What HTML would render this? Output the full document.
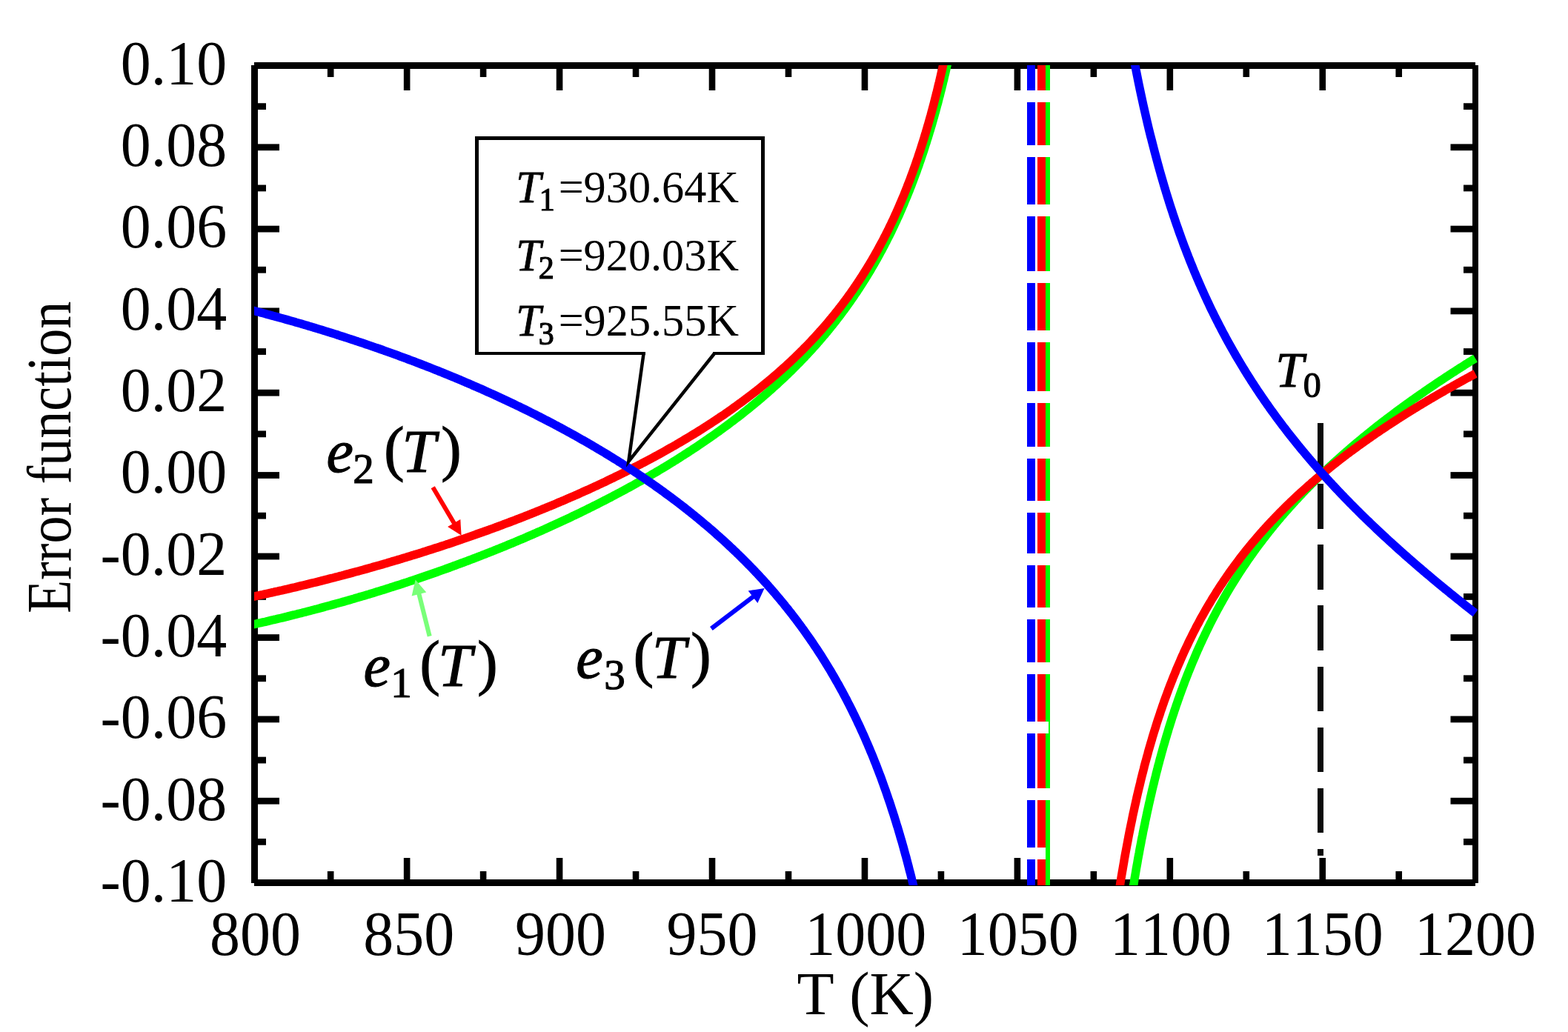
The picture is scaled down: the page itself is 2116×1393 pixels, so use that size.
<!DOCTYPE html>
<html lang="en"><head><meta charset="utf-8"><title>Error function vs T (K)</title>
<style>html,body{margin:0;padding:0;background:#fff}body{width:2116px;height:1393px;overflow:hidden}svg{display:block}text{font-family:"Liberation Serif","DejaVu Serif",serif;fill:#000;font-kerning:none}.tk{font-size:82px}.it{font-style:italic}</style></head><body>
<svg width="2116" height="1393" viewBox="0 0 2116 1393">
<rect width="2116" height="1393" fill="#fff"/>
<g shape-rendering="crispEdges">
<rect x="339" y="88" width="9" height="1104" fill="#000"/>
<rect x="343" y="84" width="1648" height="9" fill="#000"/>
<rect x="1987" y="88" width="8" height="1104" fill="#000"/>
<rect x="343" y="1187" width="1648" height="9" fill="#000"/>
</g><g>
<rect x="441.869" y="92.5" width="8.6" height="11.5" fill="#000"/>
<rect x="441.869" y="1176" width="8.6" height="11.5" fill="#000"/>
<rect x="544.837" y="92.5" width="8.6" height="29.5" fill="#000"/>
<rect x="544.837" y="1158" width="8.6" height="29.5" fill="#000"/>
<rect x="647.806" y="92.5" width="8.6" height="11.5" fill="#000"/>
<rect x="647.806" y="1176" width="8.6" height="11.5" fill="#000"/>
<rect x="750.775" y="92.5" width="8.6" height="29.5" fill="#000"/>
<rect x="750.775" y="1158" width="8.6" height="29.5" fill="#000"/>
<rect x="853.744" y="92.5" width="8.6" height="11.5" fill="#000"/>
<rect x="853.744" y="1176" width="8.6" height="11.5" fill="#000"/>
<rect x="956.712" y="92.5" width="8.6" height="29.5" fill="#000"/>
<rect x="956.712" y="1158" width="8.6" height="29.5" fill="#000"/>
<rect x="1059.68" y="92.5" width="8.6" height="11.5" fill="#000"/>
<rect x="1059.68" y="1176" width="8.6" height="11.5" fill="#000"/>
<rect x="1162.65" y="92.5" width="8.6" height="29.5" fill="#000"/>
<rect x="1162.65" y="1158" width="8.6" height="29.5" fill="#000"/>
<rect x="1265.62" y="92.5" width="8.6" height="11.5" fill="#000"/>
<rect x="1265.62" y="1176" width="8.6" height="11.5" fill="#000"/>
<rect x="1368.59" y="92.5" width="8.6" height="29.5" fill="#000"/>
<rect x="1368.59" y="1158" width="8.6" height="29.5" fill="#000"/>
<rect x="1471.56" y="92.5" width="8.6" height="11.5" fill="#000"/>
<rect x="1471.56" y="1176" width="8.6" height="11.5" fill="#000"/>
<rect x="1574.53" y="92.5" width="8.6" height="29.5" fill="#000"/>
<rect x="1574.53" y="1158" width="8.6" height="29.5" fill="#000"/>
<rect x="1677.49" y="92.5" width="8.6" height="11.5" fill="#000"/>
<rect x="1677.49" y="1176" width="8.6" height="11.5" fill="#000"/>
<rect x="1780.46" y="92.5" width="8.6" height="29.5" fill="#000"/>
<rect x="1780.46" y="1158" width="8.6" height="29.5" fill="#000"/>
<rect x="1883.43" y="92.5" width="8.6" height="11.5" fill="#000"/>
<rect x="1883.43" y="1176" width="8.6" height="11.5" fill="#000"/>
<rect x="347.5" y="139.25" width="11.5" height="8.8" fill="#000"/>
<rect x="1975" y="139.25" width="12.5" height="8.8" fill="#000"/>
<rect x="347.5" y="194.4" width="29.5" height="8.8" fill="#000"/>
<rect x="1957.5" y="194.4" width="30" height="8.8" fill="#000"/>
<rect x="347.5" y="249.55" width="11.5" height="8.8" fill="#000"/>
<rect x="1975" y="249.55" width="12.5" height="8.8" fill="#000"/>
<rect x="347.5" y="304.7" width="29.5" height="8.8" fill="#000"/>
<rect x="1957.5" y="304.7" width="30" height="8.8" fill="#000"/>
<rect x="347.5" y="359.85" width="11.5" height="8.8" fill="#000"/>
<rect x="1975" y="359.85" width="12.5" height="8.8" fill="#000"/>
<rect x="347.5" y="415.5" width="29.5" height="8.8" fill="#000"/>
<rect x="1957.5" y="415.5" width="30" height="8.8" fill="#000"/>
<rect x="347.5" y="470.15" width="11.5" height="8.8" fill="#000"/>
<rect x="1975" y="470.15" width="12.5" height="8.8" fill="#000"/>
<rect x="347.5" y="525.8" width="29.5" height="8.8" fill="#000"/>
<rect x="1957.5" y="525.8" width="30" height="8.8" fill="#000"/>
<rect x="347.5" y="581.45" width="11.5" height="8.8" fill="#000"/>
<rect x="1975" y="581.45" width="12.5" height="8.8" fill="#000"/>
<rect x="347.5" y="637.1" width="29.5" height="8.8" fill="#000"/>
<rect x="1957.5" y="637.1" width="30" height="8.8" fill="#000"/>
<rect x="347.5" y="691.75" width="11.5" height="8.8" fill="#000"/>
<rect x="1975" y="691.75" width="12.5" height="8.8" fill="#000"/>
<rect x="347.5" y="746.6" width="29.5" height="8.8" fill="#000"/>
<rect x="1957.5" y="746.6" width="30" height="8.8" fill="#000"/>
<rect x="347.5" y="801.05" width="11.5" height="8.8" fill="#000"/>
<rect x="1975" y="801.05" width="12.5" height="8.8" fill="#000"/>
<rect x="347.5" y="856.2" width="29.5" height="8.8" fill="#000"/>
<rect x="1957.5" y="856.2" width="30" height="8.8" fill="#000"/>
<rect x="347.5" y="911.35" width="11.5" height="8.8" fill="#000"/>
<rect x="1975" y="911.35" width="12.5" height="8.8" fill="#000"/>
<rect x="347.5" y="966.5" width="29.5" height="8.8" fill="#000"/>
<rect x="1957.5" y="966.5" width="30" height="8.8" fill="#000"/>
<rect x="347.5" y="1021.65" width="11.5" height="8.8" fill="#000"/>
<rect x="1975" y="1021.65" width="12.5" height="8.8" fill="#000"/>
<rect x="347.5" y="1076.8" width="29.5" height="8.8" fill="#000"/>
<rect x="1957.5" y="1076.8" width="30" height="8.8" fill="#000"/>
<rect x="347.5" y="1131.95" width="11.5" height="8.8" fill="#000"/>
<rect x="1975" y="1131.95" width="12.5" height="8.8" fill="#000"/>
</g>
<g class="tk">
<text transform="translate(344.5 1288.8) scale(1 1.027)" text-anchor="middle">800</text>
<text transform="translate(551.737 1288.8) scale(1 1.027)" text-anchor="middle">850</text>
<text transform="translate(756.375 1288.8) scale(1 1.027)" text-anchor="middle">900</text>
<text transform="translate(960.913 1288.8) scale(1 1.027)" text-anchor="middle">950</text>
<text transform="translate(1168.25 1288.8) scale(1 1.027)" text-anchor="middle">1000</text>
<text transform="translate(1373.69 1288.8) scale(1 1.027)" text-anchor="middle">1050</text>
<text transform="translate(1580.12 1288.8) scale(1 1.027)" text-anchor="middle">1100</text>
<text transform="translate(1784.76 1288.8) scale(1 1.027)" text-anchor="middle">1150</text>
<text transform="translate(1991 1288.8) scale(1 1.027)" text-anchor="middle">1200</text>
<text transform="translate(306.2 113.8) scale(1 1.027)" text-anchor="end">0.10</text>
<text transform="translate(306.2 224.1) scale(1 1.027)" text-anchor="end">0.08</text>
<text transform="translate(306.2 334.4) scale(1 1.027)" text-anchor="end">0.06</text>
<text transform="translate(306.2 444.7) scale(1 1.027)" text-anchor="end">0.04</text>
<text transform="translate(306.2 555) scale(1 1.027)" text-anchor="end">0.02</text>
<text transform="translate(306.2 665.3) scale(1 1.027)" text-anchor="end">0.00</text>
<text transform="translate(306.2 775.6) scale(1 1.027)" text-anchor="end">-0.02</text>
<text transform="translate(306.2 885.9) scale(1 1.027)" text-anchor="end">-0.04</text>
<text transform="translate(306.2 996.2) scale(1 1.027)" text-anchor="end">-0.06</text>
<text transform="translate(306.2 1106.5) scale(1 1.027)" text-anchor="end">-0.08</text>
<text transform="translate(306.2 1216.8) scale(1 1.027)" text-anchor="end">-0.10</text>
<text x="1167.8" y="1368.8" text-anchor="middle">T (K)</text>
<text transform="translate(95 617.4) rotate(-90) scale(0.903 1.027)" text-anchor="middle">Error function</text>
</g>
<g shape-rendering="crispEdges">
<rect x="1778" y="571" width="8" height="61" fill="#0a0a0a"/>
<rect x="1778" y="653" width="8" height="61" fill="#0a0a0a"/>
<rect x="1778" y="735" width="8" height="61" fill="#0a0a0a"/>
<rect x="1778" y="817" width="8" height="61" fill="#0a0a0a"/>
<rect x="1778" y="900" width="8" height="60" fill="#0a0a0a"/>
<rect x="1778" y="982" width="8" height="60" fill="#0a0a0a"/>
<rect x="1778" y="1064" width="8" height="60" fill="#0a0a0a"/>
<rect x="1778" y="1146" width="8" height="9" fill="#0a0a0a"/>
</g>
<text transform="translate(0 272.6) scale(1 1.03)" font-size="60.3"><tspan class="it" x="696.3" font-size="60.5" stroke="#000" stroke-width="0.8">T</tspan><tspan x="727.7" dy="11.5" font-size="42" stroke="#000" stroke-width="1.2">1</tspan><tspan x="753.8" dy="-11.5">=</tspan><tspan x="787.6">930.64K</tspan></text>
<text transform="translate(0 364.5) scale(1 1.03)" font-size="60.3"><tspan class="it" x="696.3" font-size="60.5" stroke="#000" stroke-width="0.8">T</tspan><tspan x="726.7" dy="11.5" font-size="42" stroke="#000" stroke-width="1.2">2</tspan><tspan x="753.8" dy="-11.5">=</tspan><tspan x="787.6">920.03K</tspan></text>
<text transform="translate(0 453.2) scale(1 1.03)" font-size="60.3"><tspan class="it" x="696.3" font-size="60.5" stroke="#000" stroke-width="0.8">T</tspan><tspan x="726.7" dy="11.5" font-size="42" stroke="#000" stroke-width="1.2">3</tspan><tspan x="753.8" dy="-11.5">=</tspan><tspan x="787.6">925.55K</tspan></text>
<defs><clipPath id="pc"><rect x="343" y="88" width="1657" height="1107"/></clipPath></defs>
<g clip-path="url(#pc)" fill="none" stroke-width="11.5" stroke-linejoin="round">
<path d="M322.9 847.0 L325.8 846.4 L328.7 845.7 L331.6 845.1 L334.6 844.5 L337.5 843.8 L340.4 843.2 L343.3 842.5 L346.2 841.9 L349.1 841.2 L352.0 840.6 L354.9 839.9 L357.9 839.3 L360.8 838.6 L363.7 837.9 L366.6 837.2 L369.5 836.5 L372.4 835.9 L375.3 835.2 L378.3 834.5 L381.2 833.8 L384.1 833.1 L387.0 832.4 L389.9 831.6 L392.8 830.9 L395.7 830.2 L398.6 829.5 L401.6 828.7 L404.5 828.0 L407.4 827.3 L410.3 826.5 L413.2 825.8 L416.1 825.0 L419.0 824.3 L421.9 823.5 L424.9 822.7 L427.8 822.0 L430.7 821.2 L433.6 820.4 L436.5 819.6 L439.4 818.8 L442.3 818.0 L445.3 817.2 L448.2 816.4 L451.1 815.6 L454.0 814.8 L456.9 814.0 L459.8 813.2 L462.7 812.4 L465.6 811.6 L468.6 810.7 L471.5 809.9 L474.4 809.0 L477.3 808.2 L480.2 807.3 L483.1 806.5 L486.0 805.6 L488.9 804.8 L491.9 803.9 L494.8 803.0 L497.7 802.2 L500.6 801.3 L503.5 800.4 L506.4 799.5 L509.3 798.6 L512.3 797.7 L515.2 796.8 L518.1 795.9 L521.0 795.0 L523.9 794.1 L526.8 793.1 L529.7 792.2 L532.6 791.3 L535.6 790.3 L538.5 789.4 L541.4 788.5 L544.3 787.5 L547.2 786.6 L550.1 785.6 L553.0 784.6 L555.9 783.7 L558.9 782.7 L561.8 781.7 L564.7 780.7 L567.6 779.7 L570.5 778.7 L573.4 777.7 L576.3 776.7 L579.3 775.7 L582.2 774.7 L585.1 773.7 L588.0 772.7 L590.9 771.7 L593.8 770.6 L596.7 769.6 L599.6 768.6 L602.6 767.5 L605.5 766.5 L608.4 765.4 L611.3 764.3 L614.2 763.3 L617.1 762.2 L620.0 761.1 L622.9 760.0 L625.9 759.0 L628.0 758.1 L630.2 757.3 L632.4 756.5 L634.6 755.7 L636.8 754.8 L639.0 754.0 L641.2 753.2 L643.3 752.3 L645.5 751.5 L647.7 750.6 L649.9 749.8 L652.1 748.9 L654.3 748.1 L656.4 747.2 L658.6 746.4 L660.8 745.5 L663.0 744.6 L665.2 743.8 L667.4 742.9 L669.6 742.0 L671.7 741.1 L673.9 740.3 L676.1 739.4 L678.3 738.5 L680.5 737.6 L682.7 736.7 L684.8 735.8 L687.0 734.9 L689.2 734.0 L691.4 733.1 L693.6 732.2 L695.8 731.3 L698.0 730.4 L700.1 729.4 L702.3 728.5 L704.5 727.6 L706.7 726.7 L708.9 725.7 L711.1 724.8 L713.2 723.8 L715.4 722.9 L717.6 722.0 L719.8 721.0 L722.0 720.0 L724.2 719.1 L726.4 718.1 L728.5 717.2 L730.7 716.2 L732.9 715.2 L735.1 714.3 L737.3 713.3 L739.5 712.3 L741.7 711.3 L743.8 710.3 L746.0 709.3 L748.2 708.3 L750.4 707.3 L752.6 706.3 L754.8 705.3 L756.9 704.3 L759.1 703.3 L761.3 702.3 L763.5 701.2 L765.7 700.2 L767.9 699.2 L770.1 698.2 L772.2 697.1 L774.4 696.1 L776.6 695.0 L778.8 694.0 L781.0 692.9 L783.2 691.9 L785.3 690.8 L787.5 689.7 L789.7 688.7 L791.9 687.6 L794.1 686.5 L796.3 685.4 L798.5 684.3 L800.6 683.3 L802.8 682.2 L805.0 681.1 L807.2 680.0 L809.4 678.8 L811.6 677.7 L813.7 676.6 L815.9 675.5 L818.1 674.4 L820.3 673.2 L822.5 672.1 L824.7 671.0 L826.9 669.8 L829.0 668.7 L831.2 667.5 L833.4 666.3 L835.6 665.2 L837.8 664.0 L840.0 662.8 L842.2 661.7 L844.3 660.5 L846.5 659.3 L848.7 658.1 L850.9 656.9 L853.1 655.7 L855.3 654.5 L857.4 653.3 L859.6 652.0 L861.8 650.8 L864.0 649.6 L866.2 648.4 L868.4 647.1 L870.6 645.9 L872.7 644.6 L874.9 643.4 L877.1 642.1 L879.3 640.8 L881.5 639.5 L883.7 638.3 L885.8 637.0 L888.0 635.7 L890.2 634.4 L892.4 633.1 L894.6 631.8 L896.8 630.5 L899.0 629.1 L901.1 627.8 L903.3 626.5 L905.5 625.1 L907.7 623.8 L909.9 622.4 L912.1 621.1 L914.2 619.7 L916.4 618.3 L918.6 616.9 L920.8 615.5 L923.0 614.1 L925.2 612.7 L927.4 611.3 L929.5 609.9 L931.7 608.5 L933.9 607.1 L936.1 605.6 L938.3 604.2 L940.5 602.7 L942.6 601.3 L944.8 599.8 L947.0 598.3 L949.2 596.8 L951.4 595.3 L953.6 593.8 L955.8 592.3 L957.9 590.8 L960.1 589.3 L962.3 587.7 L964.5 586.2 L966.7 584.6 L968.9 583.1 L971.1 581.5 L973.2 579.9 L975.4 578.3 L977.6 576.7 L979.8 575.1 L982.0 573.5 L984.2 571.9 L986.3 570.2 L988.5 568.6 L990.7 566.9 L992.9 565.2 L995.1 563.6 L997.3 561.9 L999.5 560.2 L1001.6 558.5 L1003.8 556.7 L1006.0 555.0 L1008.2 553.3 L1010.4 551.5 L1012.6 549.7 L1014.7 547.9 L1016.9 546.2 L1019.1 544.3 L1021.3 542.5 L1023.5 540.7 L1025.7 538.8 L1027.9 537.0 L1030.0 535.1 L1032.2 533.2 L1034.4 531.3 L1036.6 529.4 L1038.8 527.5 L1041.0 525.6 L1043.1 523.6 L1045.3 521.6 L1047.5 519.7 L1049.7 517.7 L1051.9 515.6 L1054.1 513.6 L1056.3 511.6 L1058.4 509.5 L1060.6 507.4 L1062.8 505.3 L1065.0 503.2 L1067.2 501.1 L1069.4 498.9 L1071.5 496.7 L1073.7 494.6 L1075.9 492.3 L1078.1 490.1 L1080.3 487.9 L1082.5 485.6 L1084.7 483.3 L1086.8 481.0 L1088.3 479.5 L1089.8 477.9 L1091.2 476.3 L1092.7 474.8 L1094.1 473.2 L1095.6 471.6 L1097.0 470.0 L1098.5 468.3 L1100.0 466.7 L1101.4 465.1 L1102.9 463.4 L1104.3 461.8 L1105.8 460.1 L1107.2 458.4 L1108.7 456.7 L1110.1 455.0 L1111.6 453.3 L1113.1 451.6 L1114.5 449.8 L1116.0 448.1 L1117.4 446.3 L1118.9 444.5 L1120.3 442.7 L1121.8 440.9 L1123.3 439.1 L1124.7 437.3 L1126.2 435.4 L1127.6 433.6 L1129.1 431.7 L1130.5 429.8 L1132.0 427.9 L1133.5 426.0 L1134.9 424.1 L1136.4 422.1 L1137.8 420.2 L1139.3 418.2 L1140.7 416.2 L1142.2 414.2 L1143.6 412.2 L1145.1 410.1 L1146.6 408.1 L1148.0 406.0 L1149.5 403.9 L1150.9 401.8 L1152.4 399.7 L1153.8 397.5 L1155.3 395.4 L1156.8 393.2 L1158.2 391.0 L1159.7 388.8 L1161.1 386.5 L1162.6 384.3 L1164.0 382.0 L1165.5 379.7 L1167.0 377.4 L1168.4 375.1 L1169.9 372.7 L1171.3 370.3 L1172.8 367.9 L1174.2 365.5 L1175.7 363.0 L1177.1 360.5 L1178.6 358.0 L1180.1 355.5 L1181.5 353.0 L1183.0 350.4 L1184.4 347.8 L1185.9 345.2 L1187.3 342.5 L1188.8 339.8 L1190.3 337.1 L1191.7 334.4 L1193.2 331.6 L1194.6 328.8 L1196.1 326.0 L1197.5 323.1 L1199.0 320.2 L1200.5 317.3 L1201.9 314.4 L1203.4 311.4 L1204.8 308.4 L1206.3 305.3 L1207.7 302.2 L1209.2 299.1 L1210.6 295.9 L1212.1 292.7 L1213.6 289.5 L1215.0 286.2 L1216.5 282.9 L1217.9 279.5 L1219.4 276.1 L1220.8 272.6 L1222.3 269.1 L1223.8 265.6 L1225.2 262.0 L1226.7 258.4 L1228.1 254.7 L1229.6 251.0 L1231.0 247.2 L1232.5 243.4 L1233.9 239.5 L1235.4 235.5 L1236.9 231.6 L1238.3 227.5 L1239.8 223.4 L1241.2 219.2 L1242.7 215.0 L1244.1 210.7 L1245.6 206.3 L1247.1 201.9 L1248.5 197.4 L1249.2 195.1 L1250.0 192.9 L1250.7 190.5 L1251.4 188.2 L1252.2 185.9 L1252.9 183.5 L1253.6 181.1 L1254.3 178.7 L1255.1 176.3 L1255.8 173.9 L1256.5 171.4 L1257.3 168.9 L1258.0 166.4 L1258.7 163.9 L1259.4 161.4 L1260.2 158.8 L1260.9 156.2 L1261.6 153.6 L1262.4 151.0 L1263.1 148.3 L1263.8 145.6 L1264.5 142.9 L1265.3 140.2 L1266.0 137.5 L1266.7 134.7 L1267.4 131.9 L1268.2 129.1 L1268.9 126.2 L1269.6 123.4 L1270.4 120.5 L1271.1 117.5 L1271.8 114.6 L1272.5 111.6 L1273.3 108.6 L1274.0 105.6 L1274.7 102.5 L1275.5 99.4 L1276.2 96.3 L1276.9 93.1 L1277.6 89.9 L1278.4 86.7 L1279.1 83.5 L1279.8 80.2 L1280.6 76.9 L1281.3 73.5 L1282.0 70.2 L1282.7 66.8 L1283.5 63.3 L1284.2 59.8 L1284.9 56.3 L1285.7 52.8 L1286.4 49.2 L1287.1 45.5 L1287.8 41.9 L1288.6 38.2 L1289.3 34.4 L1290.0 30.6 L1290.8 26.8 L1291.5 22.9 L1292.2 19.0 L1292.9 15.0 L1293.7 11.0 L1294.4 7.0 L1295.1 2.9 L1295.9 -1.2 L1296.6 -5.4 L1297.3 -9.7 L1298.0 -13.9 L1298.8 -18.3 L1299.5 -22.7 L1300.2 -27.1 L1300.9 -31.6 L1301.7 -36.1 L1302.4 -40.7 L1303.1 -45.4 L1303.9 -50.1 L1304.6 -54.9 L1305.3 -59.7 L1305.3 -59.7" stroke="#00ff00"/>
<path d="M1498.4 1452.9 L1498.7 1448.6 L1499.1 1444.4 L1499.5 1440.2 L1499.9 1436.0 L1500.3 1431.9 L1500.7 1427.8 L1501.0 1423.7 L1501.4 1419.7 L1501.8 1415.7 L1502.2 1411.8 L1502.6 1407.8 L1503.0 1404.0 L1503.4 1400.1 L1503.7 1396.3 L1504.1 1392.5 L1504.5 1388.7 L1504.9 1385.0 L1505.3 1381.3 L1505.7 1377.6 L1506.0 1373.9 L1506.4 1370.3 L1506.8 1366.7 L1507.2 1363.2 L1507.6 1359.7 L1508.0 1356.2 L1508.3 1352.7 L1508.7 1349.2 L1509.1 1345.8 L1509.5 1342.4 L1509.9 1339.1 L1510.3 1335.7 L1510.7 1332.4 L1511.0 1329.1 L1511.4 1325.8 L1511.8 1322.6 L1512.2 1319.4 L1512.6 1316.2 L1513.0 1313.0 L1513.3 1309.9 L1513.7 1306.8 L1514.1 1303.7 L1514.5 1300.6 L1514.9 1297.5 L1515.3 1294.5 L1515.6 1291.5 L1516.0 1288.5 L1516.4 1285.5 L1516.8 1282.6 L1517.2 1279.7 L1517.6 1276.7 L1518.0 1273.9 L1518.3 1271.0 L1518.7 1268.2 L1519.1 1265.3 L1519.5 1262.5 L1519.9 1259.7 L1520.3 1257.0 L1520.6 1254.2 L1521.0 1251.5 L1521.4 1248.8 L1521.8 1246.1 L1522.2 1243.4 L1522.6 1240.8 L1523.0 1238.1 L1523.3 1235.5 L1524.1 1230.3 L1524.9 1225.2 L1525.6 1220.2 L1526.4 1215.2 L1527.2 1210.2 L1527.9 1205.4 L1528.7 1200.6 L1529.5 1195.8 L1530.3 1191.2 L1531.0 1186.5 L1531.8 1182.0 L1532.6 1177.5 L1533.3 1173.0 L1534.1 1168.6 L1534.9 1164.2 L1535.6 1159.9 L1536.4 1155.7 L1537.2 1151.5 L1537.9 1147.3 L1538.7 1143.2 L1539.5 1139.2 L1540.2 1135.2 L1541.0 1131.2 L1541.8 1127.3 L1542.5 1123.4 L1543.3 1119.6 L1544.1 1115.8 L1544.9 1112.0 L1545.6 1108.3 L1546.4 1104.6 L1547.2 1101.0 L1547.9 1097.4 L1548.7 1093.8 L1549.5 1090.3 L1550.2 1086.8 L1551.0 1083.4 L1551.8 1080.0 L1552.5 1076.6 L1553.3 1073.3 L1554.1 1069.9 L1554.8 1066.7 L1555.6 1063.4 L1556.4 1060.2 L1557.2 1057.0 L1557.9 1053.9 L1558.7 1050.7 L1559.5 1047.7 L1560.2 1044.6 L1561.0 1041.6 L1561.8 1038.6 L1562.5 1035.6 L1563.3 1032.6 L1564.1 1029.7 L1564.8 1026.8 L1565.6 1023.9 L1566.4 1021.1 L1567.1 1018.3 L1567.9 1015.5 L1568.7 1012.7 L1569.4 1010.0 L1570.2 1007.2 L1571.0 1004.6 L1571.8 1001.9 L1572.5 999.2 L1573.3 996.6 L1574.1 994.0 L1574.8 991.4 L1575.6 988.9 L1576.4 986.3 L1577.1 983.8 L1577.9 981.3 L1578.7 978.8 L1579.4 976.4 L1580.2 973.9 L1581.0 971.5 L1581.7 969.1 L1582.5 966.7 L1583.3 964.4 L1584.1 962.0 L1584.8 959.7 L1585.6 957.4 L1586.4 955.1 L1587.1 952.8 L1587.9 950.6 L1588.7 948.3 L1589.8 945.0 L1591.0 941.7 L1592.1 938.5 L1593.3 935.3 L1594.4 932.1 L1595.6 929.0 L1596.7 925.9 L1597.9 922.8 L1599.0 919.7 L1600.2 916.7 L1601.3 913.7 L1602.5 910.8 L1603.6 907.9 L1604.8 905.0 L1606.0 902.1 L1607.1 899.3 L1608.3 896.5 L1609.4 893.7 L1610.6 891.0 L1611.7 888.3 L1612.9 885.6 L1614.0 882.9 L1615.2 880.2 L1616.3 877.6 L1617.5 875.0 L1618.6 872.5 L1619.8 869.9 L1620.9 867.4 L1622.1 864.9 L1623.2 862.4 L1624.4 859.9 L1625.6 857.5 L1626.7 855.1 L1627.9 852.7 L1629.0 850.3 L1630.2 848.0 L1631.3 845.7 L1632.5 843.3 L1633.6 841.0 L1634.8 838.8 L1635.9 836.5 L1637.1 834.3 L1638.2 832.1 L1639.4 829.9 L1640.5 827.7 L1641.7 825.5 L1642.8 823.4 L1644.0 821.2 L1645.2 819.1 L1646.3 817.0 L1647.5 814.9 L1648.6 812.9 L1649.8 810.8 L1650.9 808.8 L1652.1 806.8 L1653.2 804.8 L1654.4 802.8 L1655.5 800.8 L1656.7 798.8 L1657.8 796.9 L1659.0 795.0 L1660.1 793.0 L1661.3 791.1 L1662.4 789.3 L1663.6 787.4 L1664.7 785.5 L1665.9 783.7 L1667.4 781.2 L1669.0 778.8 L1670.5 776.4 L1672.0 774.0 L1673.6 771.6 L1675.1 769.3 L1676.7 766.9 L1678.2 764.6 L1679.7 762.4 L1681.3 760.1 L1682.8 757.8 L1684.3 755.6 L1685.9 753.4 L1687.4 751.2 L1689.0 749.0 L1690.5 746.9 L1692.0 744.7 L1693.6 742.6 L1695.1 740.5 L1696.6 738.4 L1698.2 736.3 L1699.7 734.3 L1701.3 732.2 L1702.8 730.2 L1704.3 728.2 L1705.9 726.2 L1707.4 724.2 L1708.9 722.2 L1710.5 720.3 L1712.0 718.3 L1713.6 716.4 L1715.1 714.5 L1716.6 712.6 L1718.2 710.7 L1719.7 708.8 L1721.2 707.0 L1722.8 705.1 L1724.3 703.3 L1725.8 701.4 L1727.4 699.6 L1728.9 697.8 L1730.5 696.0 L1732.0 694.2 L1733.5 692.5 L1735.1 690.7 L1736.6 689.0 L1738.1 687.2 L1739.7 685.5 L1741.2 683.8 L1742.8 682.1 L1744.3 680.4 L1745.8 678.7 L1747.4 677.0 L1748.9 675.3 L1750.4 673.7 L1752.0 672.0 L1753.5 670.4 L1755.1 668.8 L1756.6 667.2 L1758.1 665.5 L1759.7 663.9 L1761.2 662.3 L1762.7 660.8 L1764.3 659.2 L1765.8 657.6 L1767.4 656.1 L1768.9 654.5 L1770.4 653.0 L1772.0 651.4 L1773.5 649.9 L1775.0 648.4 L1776.6 646.9 L1778.1 645.4 L1779.6 643.9 L1781.2 642.4 L1782.7 640.9 L1784.3 639.4 L1785.8 638.0 L1787.7 636.1 L1789.6 634.3 L1791.6 632.5 L1793.5 630.7 L1795.4 628.9 L1797.3 627.2 L1799.2 625.4 L1801.2 623.7 L1803.1 621.9 L1805.0 620.2 L1806.9 618.5 L1808.9 616.7 L1810.8 615.0 L1812.7 613.3 L1814.6 611.7 L1816.5 610.0 L1818.5 608.3 L1820.4 606.7 L1822.3 605.0 L1824.2 603.4 L1826.1 601.7 L1828.1 600.1 L1830.0 598.5 L1831.9 596.9 L1833.8 595.3 L1835.8 593.7 L1837.7 592.1 L1839.6 590.5 L1841.5 588.9 L1843.4 587.4 L1845.4 585.8 L1847.3 584.3 L1849.2 582.7 L1851.1 581.2 L1853.0 579.6 L1855.0 578.1 L1856.9 576.6 L1858.8 575.1 L1860.7 573.6 L1862.7 572.1 L1864.6 570.6 L1866.5 569.1 L1868.4 567.7 L1870.3 566.2 L1872.3 564.7 L1874.2 563.3 L1876.1 561.8 L1878.0 560.4 L1879.9 558.9 L1881.9 557.5 L1883.8 556.0 L1885.7 554.6 L1887.6 553.2 L1889.6 551.8 L1891.5 550.4 L1893.4 549.0 L1895.3 547.6 L1897.2 546.2 L1899.2 544.8 L1901.1 543.4 L1903.0 542.1 L1904.9 540.7 L1906.8 539.3 L1908.8 538.0 L1910.7 536.6 L1912.6 535.2 L1914.5 533.9 L1916.5 532.6 L1918.4 531.2 L1920.3 529.9 L1922.2 528.6 L1924.1 527.2 L1926.1 525.9 L1928.0 524.6 L1929.9 523.3 L1931.8 522.0 L1933.7 520.7 L1935.7 519.4 L1937.6 518.1 L1939.5 516.8 L1941.4 515.5 L1943.3 514.2 L1945.3 513.0 L1947.2 511.7 L1949.1 510.4 L1951.0 509.2 L1953.0 507.9 L1954.9 506.6 L1956.8 505.4 L1958.7 504.1 L1960.6 502.9 L1962.6 501.7 L1964.5 500.4 L1966.4 499.2 L1968.3 497.9 L1970.2 496.7 L1972.2 495.5 L1974.1 494.3 L1976.0 493.1 L1977.9 491.8 L1979.9 490.6 L1981.8 489.4 L1983.7 488.2 L1985.6 487.0 L1987.5 485.8 L1989.5 484.6 L1991.0 483.7" stroke="#00ff00"/>
<path d="M322.9 809.2 L325.8 808.6 L328.7 808.0 L331.5 807.4 L334.4 806.8 L337.3 806.2 L340.2 805.6 L343.1 805.0 L345.9 804.4 L348.8 803.8 L351.7 803.2 L354.6 802.6 L357.5 801.9 L360.3 801.3 L363.2 800.7 L366.1 800.0 L369.0 799.4 L371.9 798.7 L374.7 798.1 L377.6 797.4 L380.5 796.8 L383.4 796.1 L386.3 795.5 L389.1 794.8 L392.0 794.1 L394.9 793.4 L397.8 792.8 L400.7 792.1 L403.5 791.4 L406.4 790.7 L409.3 790.0 L412.2 789.3 L415.0 788.6 L417.9 787.9 L420.8 787.2 L423.7 786.5 L426.6 785.8 L429.4 785.1 L432.3 784.4 L435.2 783.6 L438.1 782.9 L441.0 782.2 L443.8 781.4 L446.7 780.7 L449.6 780.0 L452.5 779.2 L455.4 778.5 L458.2 777.7 L461.1 777.0 L464.0 776.2 L466.9 775.4 L469.8 774.7 L472.6 773.9 L475.5 773.1 L478.4 772.3 L481.3 771.5 L484.2 770.8 L487.0 770.0 L489.9 769.2 L492.8 768.4 L495.7 767.6 L498.6 766.8 L501.4 766.0 L504.3 765.1 L507.2 764.3 L510.1 763.5 L513.0 762.7 L515.8 761.9 L518.7 761.0 L521.6 760.2 L524.5 759.3 L527.3 758.5 L530.2 757.6 L533.1 756.8 L536.0 755.9 L538.9 755.1 L541.7 754.2 L544.6 753.3 L547.5 752.5 L550.4 751.6 L553.3 750.7 L556.1 749.8 L559.0 748.9 L561.9 748.1 L564.8 747.2 L567.7 746.3 L570.5 745.3 L573.4 744.4 L576.3 743.5 L579.2 742.6 L582.1 741.7 L584.9 740.8 L587.8 739.8 L590.7 738.9 L593.6 738.0 L596.5 737.0 L599.3 736.1 L602.2 735.1 L605.1 734.2 L608.0 733.2 L610.9 732.2 L613.7 731.3 L616.6 730.3 L619.5 729.3 L622.4 728.3 L625.2 727.4 L628.1 726.4 L631.0 725.4 L633.9 724.4 L636.8 723.4 L639.6 722.4 L642.5 721.3 L645.4 720.3 L648.3 719.3 L651.2 718.3 L654.0 717.2 L656.9 716.2 L659.8 715.2 L662.7 714.1 L665.6 713.1 L668.4 712.0 L671.3 711.0 L674.2 709.9 L677.1 708.8 L680.0 707.7 L682.8 706.7 L685.7 705.6 L688.6 704.5 L691.5 703.4 L694.4 702.3 L697.2 701.2 L700.1 700.1 L703.0 699.0 L705.2 698.1 L707.3 697.3 L709.5 696.4 L711.6 695.6 L713.8 694.7 L716.0 693.9 L718.1 693.0 L720.3 692.1 L722.4 691.3 L724.6 690.4 L726.8 689.5 L728.9 688.7 L731.1 687.8 L733.2 686.9 L735.4 686.0 L737.5 685.1 L739.7 684.2 L741.9 683.4 L744.0 682.5 L746.2 681.6 L748.3 680.7 L750.5 679.8 L752.7 678.8 L754.8 677.9 L757.0 677.0 L759.1 676.1 L761.3 675.2 L763.5 674.2 L765.6 673.3 L767.8 672.4 L769.9 671.4 L772.1 670.5 L774.3 669.6 L776.4 668.6 L778.6 667.7 L780.7 666.7 L782.9 665.7 L785.1 664.8 L787.2 663.8 L789.4 662.8 L791.5 661.9 L793.7 660.9 L795.9 659.9 L798.0 658.9 L800.2 657.9 L802.3 656.9 L804.5 655.9 L806.7 654.9 L808.8 653.9 L811.0 652.9 L813.1 651.9 L815.3 650.9 L817.5 649.9 L819.6 648.8 L821.8 647.8 L823.9 646.8 L826.1 645.7 L828.3 644.7 L830.4 643.6 L832.6 642.6 L834.7 641.5 L836.9 640.5 L839.0 639.4 L841.2 638.3 L843.4 637.3 L845.5 636.2 L847.7 635.1 L849.8 634.0 L852.0 632.9 L854.2 631.8 L856.3 630.7 L858.5 629.6 L860.6 628.5 L862.8 627.4 L865.0 626.3 L867.1 625.1 L869.3 624.0 L871.4 622.9 L873.6 621.7 L875.8 620.6 L877.9 619.4 L880.1 618.2 L882.2 617.1 L884.4 615.9 L886.6 614.7 L888.7 613.6 L890.9 612.4 L893.0 611.2 L895.2 610.0 L897.4 608.8 L899.5 607.6 L901.7 606.3 L903.8 605.1 L906.0 603.9 L908.2 602.6 L910.3 601.4 L912.5 600.2 L914.6 598.9 L916.8 597.6 L919.0 596.4 L921.1 595.1 L923.3 593.8 L925.4 592.5 L927.6 591.2 L929.8 589.9 L931.9 588.6 L934.1 587.3 L936.2 586.0 L938.4 584.7 L940.6 583.3 L942.7 582.0 L944.9 580.6 L947.0 579.3 L949.2 577.9 L951.3 576.5 L953.5 575.1 L955.7 573.8 L957.8 572.4 L960.0 570.9 L962.1 569.5 L964.3 568.1 L966.5 566.7 L968.6 565.2 L970.8 563.8 L972.9 562.3 L975.1 560.9 L977.3 559.4 L979.4 557.9 L981.6 556.4 L983.7 554.9 L985.9 553.4 L988.1 551.8 L990.2 550.3 L992.4 548.8 L994.5 547.2 L996.7 545.6 L998.9 544.1 L1001.0 542.5 L1003.2 540.9 L1005.3 539.3 L1007.5 537.6 L1009.7 536.0 L1011.8 534.4 L1014.0 532.7 L1016.1 531.1 L1018.3 529.4 L1020.5 527.7 L1022.6 526.0 L1024.8 524.3 L1026.9 522.5 L1029.1 520.8 L1031.3 519.0 L1033.4 517.3 L1035.6 515.5 L1037.7 513.7 L1039.9 511.9 L1042.1 510.0 L1044.2 508.2 L1046.4 506.3 L1048.5 504.5 L1050.7 502.6 L1052.8 500.7 L1055.0 498.8 L1057.2 496.8 L1059.3 494.9 L1061.5 492.9 L1063.6 490.9 L1065.8 488.9 L1068.0 486.9 L1070.1 484.9 L1072.3 482.8 L1074.4 480.7 L1076.6 478.6 L1078.8 476.5 L1080.9 474.4 L1083.1 472.2 L1085.2 470.0 L1087.4 467.9 L1089.6 465.6 L1091.7 463.4 L1093.9 461.1 L1096.0 458.8 L1098.2 456.5 L1100.4 454.2 L1101.8 452.6 L1103.2 451.0 L1104.7 449.4 L1106.1 447.8 L1107.6 446.2 L1109.0 444.6 L1110.4 443.0 L1111.9 441.3 L1113.3 439.6 L1114.8 438.0 L1116.2 436.3 L1117.6 434.6 L1119.1 432.9 L1120.5 431.1 L1122.0 429.4 L1123.4 427.6 L1124.8 425.9 L1126.3 424.1 L1127.7 422.3 L1129.2 420.5 L1130.6 418.7 L1132.0 416.8 L1133.5 415.0 L1134.9 413.1 L1136.4 411.2 L1137.8 409.3 L1139.2 407.4 L1140.7 405.5 L1142.1 403.5 L1143.6 401.6 L1145.0 399.6 L1146.4 397.6 L1147.9 395.6 L1149.3 393.5 L1150.8 391.5 L1152.2 389.4 L1153.6 387.3 L1155.1 385.2 L1156.5 383.0 L1157.9 380.9 L1159.4 378.7 L1160.8 376.5 L1162.3 374.3 L1163.7 372.1 L1165.1 369.8 L1166.6 367.5 L1168.0 365.2 L1169.5 362.9 L1170.9 360.6 L1172.3 358.2 L1173.8 355.8 L1175.2 353.4 L1176.7 350.9 L1178.1 348.5 L1179.5 346.0 L1181.0 343.4 L1182.4 340.9 L1183.9 338.3 L1185.3 335.7 L1186.7 333.1 L1188.2 330.4 L1189.6 327.7 L1191.1 325.0 L1192.5 322.2 L1193.9 319.4 L1195.4 316.6 L1196.8 313.8 L1198.3 310.9 L1199.7 308.0 L1201.1 305.0 L1202.6 302.0 L1204.0 299.0 L1205.5 295.9 L1206.9 292.8 L1208.3 289.6 L1209.8 286.4 L1211.2 283.2 L1212.7 279.9 L1214.1 276.6 L1215.5 273.3 L1217.0 269.9 L1218.4 266.4 L1219.9 262.9 L1221.3 259.4 L1222.7 255.8 L1224.2 252.1 L1225.6 248.4 L1227.1 244.7 L1228.5 240.9 L1229.9 237.0 L1231.4 233.1 L1232.8 229.1 L1234.3 225.1 L1235.7 221.0 L1237.1 216.8 L1238.6 212.6 L1240.0 208.3 L1241.5 203.9 L1242.9 199.5 L1244.3 195.0 L1245.1 192.7 L1245.8 190.4 L1246.5 188.1 L1247.2 185.8 L1247.9 183.4 L1248.7 181.0 L1249.4 178.6 L1250.1 176.2 L1250.8 173.8 L1251.5 171.3 L1252.3 168.8 L1253.0 166.3 L1253.7 163.8 L1254.4 161.2 L1255.1 158.7 L1255.9 156.1 L1256.6 153.5 L1257.3 150.8 L1258.0 148.2 L1258.7 145.5 L1259.5 142.7 L1260.2 140.0 L1260.9 137.2 L1261.6 134.5 L1262.3 131.6 L1263.0 128.8 L1263.8 125.9 L1264.5 123.0 L1265.2 120.1 L1265.9 117.1 L1266.6 114.2 L1267.4 111.1 L1268.1 108.1 L1268.8 105.0 L1269.5 101.9 L1270.2 98.8 L1271.0 95.6 L1271.7 92.4 L1272.4 89.2 L1273.1 85.9 L1273.8 82.6 L1274.6 79.3 L1275.3 75.9 L1276.0 72.5 L1276.7 69.1 L1277.4 65.6 L1278.2 62.1 L1278.9 58.5 L1279.6 54.9 L1280.3 51.3 L1281.0 47.6 L1281.8 43.9 L1282.5 40.2 L1283.2 36.4 L1283.9 32.5 L1284.6 28.6 L1285.4 24.7 L1286.1 20.7 L1286.8 16.7 L1287.5 12.6 L1288.2 8.5 L1289.0 4.3 L1289.7 0.1 L1290.4 -4.2 L1291.1 -8.5 L1291.8 -12.9 L1292.6 -17.3 L1293.3 -21.8 L1294.0 -26.3 L1294.7 -30.9 L1295.4 -35.6 L1296.2 -40.3 L1296.9 -45.1 L1297.6 -49.9 L1298.3 -54.8 L1299.0 -59.8 L1299.0 -59.8" stroke="#ff0000"/>
<path d="M1481.3 1450.7 L1481.7 1446.2 L1482.1 1441.7 L1482.5 1437.3 L1482.9 1432.9 L1483.3 1428.5 L1483.7 1424.2 L1484.1 1419.9 L1484.5 1415.7 L1484.9 1411.5 L1485.2 1407.3 L1485.6 1403.2 L1486.0 1399.1 L1486.4 1395.0 L1486.8 1391.0 L1487.2 1387.0 L1487.6 1383.1 L1488.0 1379.2 L1488.4 1375.3 L1488.8 1371.5 L1489.2 1367.7 L1489.6 1363.9 L1490.0 1360.2 L1490.4 1356.4 L1490.7 1352.8 L1491.1 1349.1 L1491.5 1345.5 L1491.9 1341.9 L1492.3 1338.4 L1492.7 1334.8 L1493.1 1331.3 L1493.5 1327.9 L1493.9 1324.4 L1494.3 1321.0 L1494.7 1317.6 L1495.1 1314.3 L1495.5 1311.0 L1495.8 1307.7 L1496.2 1304.4 L1496.6 1301.1 L1497.0 1297.9 L1497.4 1294.7 L1497.8 1291.5 L1498.2 1288.4 L1498.6 1285.3 L1499.0 1282.2 L1499.4 1279.1 L1499.8 1276.1 L1500.2 1273.0 L1500.6 1270.0 L1501.0 1267.0 L1501.3 1264.1 L1501.7 1261.1 L1502.1 1258.2 L1502.5 1255.3 L1502.9 1252.5 L1503.3 1249.6 L1503.7 1246.8 L1504.1 1244.0 L1504.5 1241.2 L1504.9 1238.4 L1505.3 1235.7 L1505.7 1232.9 L1506.1 1230.2 L1506.5 1227.5 L1506.8 1224.9 L1507.2 1222.2 L1507.6 1219.6 L1508.0 1217.0 L1508.8 1211.8 L1509.6 1206.7 L1510.4 1201.7 L1511.2 1196.7 L1511.9 1191.8 L1512.7 1187.0 L1513.5 1182.2 L1514.3 1177.5 L1515.1 1172.9 L1515.9 1168.3 L1516.7 1163.8 L1517.4 1159.3 L1518.2 1154.9 L1519.0 1150.5 L1519.8 1146.2 L1520.6 1142.0 L1521.4 1137.8 L1522.2 1133.7 L1522.9 1129.6 L1523.7 1125.5 L1524.5 1121.5 L1525.3 1117.6 L1526.1 1113.7 L1526.9 1109.8 L1527.7 1106.0 L1528.4 1102.3 L1529.2 1098.5 L1530.0 1094.9 L1530.8 1091.2 L1531.6 1087.6 L1532.4 1084.1 L1533.2 1080.6 L1533.9 1077.1 L1534.7 1073.6 L1535.5 1070.2 L1536.3 1066.9 L1537.1 1063.5 L1537.9 1060.3 L1538.7 1057.0 L1539.4 1053.8 L1540.2 1050.6 L1541.0 1047.4 L1541.8 1044.3 L1542.6 1041.2 L1543.4 1038.1 L1544.1 1035.1 L1544.9 1032.1 L1545.7 1029.1 L1546.5 1026.2 L1547.3 1023.3 L1548.1 1020.4 L1548.9 1017.5 L1549.6 1014.7 L1550.4 1011.9 L1551.2 1009.1 L1552.0 1006.4 L1552.8 1003.6 L1553.6 1000.9 L1554.4 998.3 L1555.1 995.6 L1555.9 993.0 L1556.7 990.4 L1557.5 987.8 L1558.3 985.3 L1559.1 982.7 L1559.9 980.2 L1560.6 977.7 L1561.4 975.3 L1562.2 972.8 L1563.0 970.4 L1563.8 968.0 L1564.6 965.6 L1565.4 963.3 L1566.1 960.9 L1566.9 958.6 L1567.7 956.3 L1568.5 954.0 L1569.3 951.7 L1570.1 949.5 L1570.8 947.3 L1572.0 944.0 L1573.2 940.7 L1574.4 937.5 L1575.6 934.3 L1576.7 931.1 L1577.9 928.0 L1579.1 924.9 L1580.3 921.9 L1581.5 918.9 L1582.6 915.9 L1583.8 913.0 L1585.0 910.1 L1586.2 907.2 L1587.3 904.3 L1588.5 901.5 L1589.7 898.7 L1590.9 896.0 L1592.1 893.3 L1593.2 890.6 L1594.4 887.9 L1595.6 885.2 L1596.8 882.6 L1597.9 880.0 L1599.1 877.5 L1600.3 874.9 L1601.5 872.4 L1602.7 869.9 L1603.8 867.5 L1605.0 865.0 L1606.2 862.6 L1607.4 860.2 L1608.5 857.9 L1609.7 855.5 L1610.9 853.2 L1612.1 850.9 L1613.3 848.6 L1614.4 846.3 L1615.6 844.1 L1616.8 841.9 L1618.0 839.7 L1619.1 837.5 L1620.3 835.3 L1621.5 833.2 L1622.7 831.1 L1623.9 828.9 L1625.0 826.9 L1626.2 824.8 L1627.4 822.7 L1628.6 820.7 L1629.7 818.7 L1630.9 816.7 L1632.1 814.7 L1633.3 812.7 L1634.5 810.8 L1635.6 808.8 L1636.8 806.9 L1638.0 805.0 L1639.2 803.1 L1640.4 801.2 L1641.5 799.3 L1642.7 797.5 L1643.9 795.6 L1645.1 793.8 L1646.6 791.4 L1648.2 789.0 L1649.8 786.7 L1651.3 784.3 L1652.9 782.0 L1654.5 779.7 L1656.1 777.4 L1657.6 775.2 L1659.2 772.9 L1660.8 770.7 L1662.3 768.5 L1663.9 766.4 L1665.5 764.2 L1667.1 762.1 L1668.6 760.0 L1670.2 757.9 L1671.8 755.8 L1673.3 753.7 L1674.9 751.7 L1676.5 749.7 L1678.0 747.6 L1679.6 745.7 L1681.2 743.7 L1682.8 741.7 L1684.3 739.8 L1685.9 737.8 L1687.5 735.9 L1689.0 734.0 L1690.6 732.1 L1692.2 730.3 L1693.8 728.4 L1695.3 726.6 L1696.9 724.7 L1698.5 722.9 L1700.0 721.1 L1701.6 719.3 L1703.2 717.6 L1704.7 715.8 L1706.3 714.1 L1707.9 712.3 L1709.5 710.6 L1711.0 708.9 L1712.6 707.2 L1714.2 705.5 L1715.7 703.8 L1717.3 702.2 L1718.9 700.5 L1720.5 698.9 L1722.0 697.2 L1723.6 695.6 L1725.2 694.0 L1726.7 692.4 L1728.3 690.8 L1729.9 689.2 L1731.4 687.6 L1733.0 686.1 L1734.6 684.5 L1736.2 683.0 L1737.7 681.4 L1739.3 679.9 L1740.9 678.4 L1742.4 676.9 L1744.0 675.4 L1745.6 673.9 L1747.2 672.4 L1748.7 671.0 L1750.3 669.5 L1751.9 668.0 L1753.4 666.6 L1755.0 665.2 L1756.6 663.7 L1758.5 662.0 L1760.5 660.2 L1762.5 658.4 L1764.4 656.7 L1766.4 655.0 L1768.4 653.3 L1770.3 651.5 L1772.3 649.8 L1774.2 648.2 L1776.2 646.5 L1778.2 644.8 L1780.1 643.2 L1782.1 641.5 L1784.1 639.9 L1786.0 638.3 L1788.0 636.7 L1790.0 635.1 L1791.9 633.5 L1793.9 631.9 L1795.8 630.3 L1797.8 628.7 L1799.8 627.2 L1801.7 625.6 L1803.7 624.1 L1805.7 622.5 L1807.6 621.0 L1809.6 619.5 L1811.6 618.0 L1813.5 616.5 L1815.5 615.0 L1817.4 613.5 L1819.4 612.0 L1821.4 610.6 L1823.3 609.1 L1825.3 607.7 L1827.3 606.2 L1829.2 604.8 L1831.2 603.3 L1833.1 601.9 L1835.1 600.5 L1837.1 599.1 L1839.0 597.7 L1841.0 596.3 L1843.0 594.9 L1844.9 593.5 L1846.9 592.1 L1848.9 590.8 L1850.8 589.4 L1852.8 588.0 L1854.7 586.7 L1856.7 585.3 L1858.7 584.0 L1860.6 582.7 L1862.6 581.3 L1864.6 580.0 L1866.5 578.7 L1868.5 577.4 L1870.5 576.1 L1872.4 574.8 L1874.4 573.5 L1876.3 572.2 L1878.3 570.9 L1880.3 569.6 L1882.2 568.4 L1884.2 567.1 L1886.2 565.8 L1888.1 564.6 L1890.1 563.3 L1892.0 562.1 L1894.0 560.8 L1896.0 559.6 L1897.9 558.3 L1899.9 557.1 L1901.9 555.9 L1903.8 554.7 L1905.8 553.4 L1907.8 552.2 L1909.7 551.0 L1911.7 549.8 L1913.6 548.6 L1915.6 547.4 L1917.6 546.2 L1919.5 545.1 L1921.5 543.9 L1923.5 542.7 L1925.4 541.5 L1927.4 540.3 L1929.4 539.2 L1931.3 538.0 L1933.3 536.9 L1935.2 535.7 L1937.2 534.6 L1939.2 533.4 L1941.1 532.3 L1943.1 531.1 L1945.1 530.0 L1947.0 528.9 L1949.0 527.7 L1950.9 526.6 L1952.9 525.5 L1954.9 524.4 L1956.8 523.3 L1958.8 522.2 L1960.8 521.0 L1962.7 519.9 L1964.7 518.8 L1966.7 517.7 L1968.6 516.6 L1970.6 515.6 L1972.5 514.5 L1974.5 513.4 L1976.5 512.3 L1978.4 511.2 L1980.4 510.2 L1982.4 509.1 L1984.3 508.0 L1986.3 507.0 L1988.3 505.9 L1990.2 504.8 L1991.0 504.4" stroke="#ff0000"/>
<path d="M322.9 414.4 L325.8 415.2 L328.6 415.9 L331.5 416.6 L334.3 417.3 L337.2 418.1 L340.0 418.8 L342.9 419.5 L345.7 420.3 L348.6 421.0 L351.4 421.8 L354.3 422.5 L357.1 423.3 L360.0 424.1 L362.8 424.8 L365.6 425.6 L368.5 426.4 L371.3 427.1 L374.2 427.9 L377.0 428.7 L379.9 429.5 L382.7 430.3 L385.6 431.1 L388.4 431.9 L391.3 432.7 L394.1 433.5 L397.0 434.3 L399.8 435.2 L402.7 436.0 L405.5 436.8 L408.4 437.6 L411.2 438.5 L414.1 439.3 L416.9 440.2 L419.8 441.0 L422.6 441.9 L425.5 442.7 L428.3 443.6 L431.2 444.5 L434.0 445.3 L436.9 446.2 L439.7 447.1 L442.6 448.0 L445.4 448.9 L448.3 449.7 L451.1 450.6 L454.0 451.5 L456.8 452.5 L459.7 453.4 L462.5 454.3 L465.4 455.2 L468.2 456.1 L471.1 457.1 L473.9 458.0 L476.8 458.9 L479.6 459.9 L482.5 460.8 L485.3 461.8 L488.2 462.7 L491.0 463.7 L493.9 464.7 L496.7 465.6 L499.6 466.6 L502.4 467.6 L505.3 468.6 L508.1 469.6 L511.0 470.5 L513.8 471.5 L516.7 472.5 L519.5 473.6 L522.4 474.6 L525.2 475.6 L528.1 476.6 L530.9 477.6 L533.8 478.7 L536.6 479.7 L539.5 480.8 L542.3 481.8 L545.2 482.9 L548.0 483.9 L550.9 485.0 L553.7 486.1 L556.6 487.1 L559.4 488.2 L562.3 489.3 L565.1 490.4 L568.0 491.5 L570.8 492.6 L573.7 493.7 L576.5 494.8 L579.4 495.9 L582.2 497.0 L585.1 498.2 L587.9 499.3 L590.8 500.4 L593.6 501.6 L596.5 502.7 L598.6 503.6 L600.7 504.5 L602.9 505.3 L605.0 506.2 L607.2 507.1 L609.3 508.0 L611.4 508.9 L613.6 509.7 L615.7 510.6 L617.8 511.5 L620.0 512.4 L622.1 513.3 L624.2 514.2 L626.4 515.1 L628.5 516.1 L630.7 517.0 L632.8 517.9 L634.9 518.8 L637.1 519.7 L639.2 520.7 L641.3 521.6 L643.5 522.5 L645.6 523.5 L647.8 524.4 L649.9 525.3 L652.0 526.3 L654.2 527.3 L656.3 528.2 L658.4 529.2 L660.6 530.1 L662.7 531.1 L664.9 532.1 L667.0 533.0 L669.1 534.0 L671.3 535.0 L673.4 536.0 L675.5 537.0 L677.7 538.0 L679.8 539.0 L682.0 540.0 L684.1 541.0 L686.2 542.0 L688.4 543.0 L690.5 544.0 L692.6 545.0 L694.8 546.0 L696.9 547.1 L699.0 548.1 L701.2 549.1 L703.3 550.2 L705.5 551.2 L707.6 552.3 L709.7 553.3 L711.9 554.4 L714.0 555.4 L716.1 556.5 L718.3 557.6 L720.4 558.6 L722.6 559.7 L724.7 560.8 L726.8 561.9 L729.0 563.0 L731.1 564.1 L733.2 565.2 L735.4 566.3 L737.5 567.4 L739.7 568.5 L741.8 569.6 L743.9 570.7 L746.1 571.8 L748.2 573.0 L750.3 574.1 L752.5 575.2 L754.6 576.4 L756.8 577.5 L758.9 578.7 L761.0 579.8 L763.2 581.0 L765.3 582.2 L767.4 583.3 L769.6 584.5 L771.7 585.7 L773.9 586.9 L776.0 588.1 L778.1 589.3 L780.3 590.5 L782.4 591.7 L784.5 592.9 L786.7 594.1 L788.8 595.3 L790.9 596.5 L793.1 597.8 L795.2 599.0 L797.4 600.3 L799.5 601.5 L801.6 602.8 L803.8 604.0 L805.9 605.3 L808.0 606.6 L810.2 607.8 L812.3 609.1 L814.5 610.4 L816.6 611.7 L818.7 613.0 L820.9 614.3 L823.0 615.6 L825.1 616.9 L827.3 618.2 L829.4 619.6 L831.6 620.9 L833.7 622.2 L835.8 623.6 L838.0 624.9 L840.1 626.3 L842.2 627.7 L844.4 629.0 L846.5 630.4 L848.7 631.8 L850.8 633.2 L852.9 634.6 L855.1 636.0 L857.2 637.4 L859.3 638.8 L861.5 640.3 L863.6 641.7 L865.7 643.1 L867.9 644.6 L870.0 646.1 L872.2 647.5 L874.3 649.0 L876.4 650.5 L878.6 652.0 L880.7 653.4 L882.8 654.9 L885.0 656.5 L887.1 658.0 L889.3 659.5 L891.4 661.0 L893.5 662.6 L895.7 664.1 L897.8 665.7 L899.9 667.2 L902.1 668.8 L904.2 670.4 L906.4 672.0 L908.5 673.6 L910.6 675.2 L912.8 676.8 L914.9 678.4 L917.0 680.1 L919.2 681.7 L921.3 683.4 L923.5 685.0 L925.6 686.7 L927.7 688.4 L929.9 690.1 L932.0 691.8 L934.1 693.5 L936.3 695.2 L938.4 697.0 L940.6 698.7 L942.7 700.5 L944.8 702.2 L947.0 704.0 L949.1 705.8 L951.2 707.6 L953.4 709.4 L955.5 711.2 L957.6 713.0 L959.8 714.9 L961.9 716.7 L964.1 718.6 L966.2 720.5 L968.3 722.4 L970.5 724.3 L972.6 726.2 L974.7 728.1 L976.9 730.1 L979.0 732.0 L981.2 734.0 L983.3 736.0 L985.4 738.0 L987.6 740.0 L989.7 742.0 L991.8 744.1 L994.0 746.1 L996.1 748.2 L998.3 750.3 L1000.4 752.4 L1002.5 754.5 L1004.7 756.6 L1006.8 758.8 L1008.9 760.9 L1011.1 763.1 L1013.2 765.3 L1015.4 767.5 L1017.5 769.7 L1019.6 772.0 L1021.8 774.3 L1023.9 776.5 L1026.0 778.8 L1028.2 781.2 L1030.3 783.5 L1032.4 785.9 L1033.9 787.4 L1035.3 789.0 L1036.7 790.6 L1038.1 792.2 L1039.6 793.9 L1041.0 795.5 L1042.4 797.1 L1043.8 798.8 L1045.3 800.4 L1046.7 802.1 L1048.1 803.8 L1049.5 805.5 L1051.0 807.2 L1052.4 808.9 L1053.8 810.6 L1055.2 812.3 L1056.7 814.0 L1058.1 815.8 L1059.5 817.6 L1060.9 819.3 L1062.4 821.1 L1063.8 822.9 L1065.2 824.7 L1066.6 826.5 L1068.1 828.3 L1069.5 830.2 L1070.9 832.0 L1072.3 833.9 L1073.8 835.8 L1075.2 837.6 L1076.6 839.5 L1078.0 841.5 L1079.5 843.4 L1080.9 845.3 L1082.3 847.3 L1083.7 849.2 L1085.2 851.2 L1086.6 853.2 L1088.0 855.2 L1089.4 857.2 L1090.9 859.3 L1092.3 861.3 L1093.7 863.4 L1095.1 865.4 L1096.6 867.5 L1098.0 869.6 L1099.4 871.8 L1100.8 873.9 L1102.3 876.1 L1103.7 878.2 L1105.1 880.4 L1106.5 882.6 L1108.0 884.8 L1109.4 887.1 L1110.8 889.3 L1112.2 891.6 L1113.7 893.9 L1115.1 896.2 L1116.5 898.5 L1117.9 900.9 L1119.4 903.3 L1120.8 905.6 L1122.2 908.0 L1123.6 910.5 L1125.1 912.9 L1126.5 915.4 L1127.9 917.9 L1129.3 920.4 L1130.8 922.9 L1132.2 925.4 L1133.6 928.0 L1135.0 930.6 L1136.5 933.2 L1137.9 935.9 L1139.3 938.5 L1140.7 941.2 L1142.2 943.9 L1143.6 946.7 L1145.0 949.5 L1146.4 952.2 L1147.9 955.1 L1149.3 957.9 L1150.7 960.8 L1152.1 963.7 L1153.6 966.6 L1155.0 969.6 L1156.4 972.5 L1157.8 975.6 L1159.3 978.6 L1160.7 981.7 L1162.1 984.8 L1163.5 987.9 L1165.0 991.1 L1166.4 994.3 L1167.8 997.5 L1169.2 1000.8 L1170.7 1004.1 L1172.1 1007.5 L1173.5 1010.8 L1174.9 1014.2 L1176.4 1017.7 L1177.8 1021.2 L1179.2 1024.7 L1180.6 1028.3 L1182.1 1031.9 L1183.5 1035.6 L1184.9 1039.3 L1186.3 1043.0 L1187.8 1046.8 L1189.2 1050.6 L1190.6 1054.5 L1192.0 1058.4 L1193.4 1062.4 L1194.9 1066.4 L1196.3 1070.5 L1197.7 1074.6 L1199.1 1078.8 L1200.6 1083.0 L1202.0 1087.3 L1203.4 1091.7 L1204.8 1096.1 L1206.3 1100.5 L1207.7 1105.1 L1209.1 1109.6 L1209.8 1112.0 L1210.5 1114.3 L1211.3 1116.6 L1212.0 1119.0 L1212.7 1121.4 L1213.4 1123.8 L1214.1 1126.2 L1214.8 1128.6 L1215.5 1131.1 L1216.2 1133.5 L1217.0 1136.0 L1217.7 1138.5 L1218.4 1141.0 L1219.1 1143.6 L1219.8 1146.1 L1220.5 1148.7 L1221.2 1151.3 L1221.9 1153.9 L1222.7 1156.5 L1223.4 1159.2 L1224.1 1161.9 L1224.8 1164.6 L1225.5 1167.3 L1226.2 1170.0 L1226.9 1172.8 L1227.6 1175.6 L1228.4 1178.4 L1229.1 1181.2 L1229.8 1184.0 L1230.5 1186.9 L1231.2 1189.8 L1231.9 1192.7 L1232.6 1195.6 L1233.3 1198.6 L1234.1 1201.6 L1234.8 1204.6 L1235.5 1207.6 L1236.2 1210.7 L1236.9 1213.8 L1237.6 1216.9 L1238.3 1220.0 L1239.0 1223.2 L1239.8 1226.4 L1240.5 1229.6 L1241.2 1232.8 L1241.9 1236.1 L1242.6 1239.4 L1243.3 1242.7 L1244.0 1246.1 L1244.7 1249.5 L1245.5 1252.9 L1246.2 1256.4 L1246.9 1259.8 L1247.6 1263.4 L1248.3 1266.9 L1249.0 1270.5 L1249.7 1274.1 L1250.4 1277.7 L1251.2 1281.4 L1251.9 1285.1 L1252.6 1288.9 L1253.3 1292.7 L1254.0 1296.5 L1254.7 1300.4 L1255.4 1304.3 L1256.1 1308.2 L1256.9 1312.2 L1257.6 1316.2 L1258.3 1320.2 L1259.0 1324.3 L1259.7 1328.4 L1260.4 1332.6 L1261.1 1336.8 L1261.8 1341.1 L1262.6 1345.4 L1263.3 1349.8 L1264.0 1354.1 L1264.7 1358.6 L1265.4 1363.1 L1266.1 1367.6 L1266.8 1372.2 L1267.5 1376.8 L1268.3 1381.5 L1269.0 1386.2 L1269.7 1391.0 L1270.4 1395.9 L1271.1 1400.8 L1271.8 1405.7 L1272.5 1410.7 L1273.2 1415.8 L1274.0 1420.9 L1274.7 1426.1 L1275.4 1431.3 L1276.1 1436.6 L1276.8 1442.0 L1277.5 1447.4 L1278.2 1452.9 L1278.2 1452.9" stroke="#0000ff"/>
<path d="M1508.0 -57.6 L1508.4 -54.7 L1508.8 -51.8 L1509.2 -49.0 L1509.6 -46.1 L1510.0 -43.3 L1510.4 -40.5 L1510.8 -37.7 L1511.2 -34.9 L1511.6 -32.2 L1512.0 -29.4 L1512.4 -26.7 L1512.8 -24.0 L1513.2 -21.3 L1513.6 -18.6 L1514.0 -16.0 L1514.4 -13.3 L1514.8 -10.7 L1515.2 -8.1 L1516.0 -2.9 L1516.8 2.2 L1517.6 7.3 L1518.4 12.3 L1519.2 17.2 L1520.0 22.1 L1520.8 26.9 L1521.6 31.7 L1522.4 36.4 L1523.2 41.1 L1524.0 45.7 L1524.8 50.3 L1525.6 54.8 L1526.4 59.2 L1527.2 63.7 L1528.0 68.0 L1528.8 72.4 L1529.6 76.6 L1530.4 80.9 L1531.2 85.1 L1532.0 89.2 L1532.8 93.3 L1533.6 97.4 L1534.4 101.4 L1535.2 105.4 L1536.0 109.4 L1536.8 113.3 L1537.6 117.1 L1538.4 121.0 L1539.2 124.8 L1540.0 128.5 L1540.8 132.2 L1541.6 135.9 L1542.4 139.6 L1543.2 143.2 L1544.0 146.8 L1544.8 150.3 L1545.6 153.8 L1546.4 157.3 L1547.2 160.8 L1548.0 164.2 L1548.8 167.6 L1549.6 171.0 L1550.4 174.3 L1551.2 177.6 L1552.0 180.9 L1552.8 184.1 L1553.7 187.3 L1554.5 190.5 L1555.3 193.7 L1556.1 196.8 L1556.9 199.9 L1557.7 203.0 L1558.5 206.1 L1559.3 209.1 L1560.1 212.1 L1560.9 215.1 L1561.7 218.1 L1562.5 221.0 L1563.3 223.9 L1564.1 226.8 L1564.9 229.7 L1565.7 232.5 L1566.5 235.3 L1567.3 238.1 L1568.1 240.9 L1568.9 243.7 L1569.7 246.4 L1570.5 249.1 L1571.3 251.8 L1572.1 254.5 L1572.9 257.1 L1573.7 259.8 L1574.5 262.4 L1575.3 265.0 L1576.1 267.6 L1576.9 270.1 L1577.7 272.7 L1578.5 275.2 L1579.3 277.7 L1580.1 280.2 L1580.9 282.6 L1581.7 285.1 L1582.5 287.5 L1583.3 290.0 L1584.1 292.4 L1584.9 294.7 L1585.7 297.1 L1586.5 299.5 L1587.3 301.8 L1588.1 304.1 L1588.9 306.4 L1589.7 308.7 L1590.5 311.0 L1591.3 313.2 L1592.1 315.5 L1592.9 317.7 L1593.7 319.9 L1594.5 322.1 L1595.7 325.4 L1596.9 328.7 L1598.1 331.9 L1599.3 335.1 L1600.5 338.2 L1601.7 341.3 L1602.9 344.4 L1604.1 347.5 L1605.3 350.5 L1606.5 353.6 L1607.7 356.5 L1608.9 359.5 L1610.1 362.4 L1611.3 365.4 L1612.5 368.2 L1613.7 371.1 L1614.9 373.9 L1616.1 376.8 L1617.3 379.6 L1618.5 382.3 L1619.7 385.1 L1620.9 387.8 L1622.1 390.5 L1623.3 393.2 L1624.5 395.8 L1625.7 398.5 L1626.9 401.1 L1628.1 403.7 L1629.3 406.3 L1630.5 408.8 L1631.7 411.4 L1632.9 413.9 L1634.1 416.4 L1635.3 418.9 L1636.5 421.3 L1637.7 423.8 L1638.9 426.2 L1640.1 428.6 L1641.3 431.0 L1642.5 433.4 L1643.7 435.7 L1644.9 438.1 L1646.1 440.4 L1647.3 442.7 L1648.5 445.0 L1649.7 447.3 L1650.9 449.6 L1652.1 451.8 L1653.3 454.0 L1654.5 456.3 L1655.7 458.5 L1656.9 460.7 L1658.1 462.8 L1659.3 465.0 L1660.5 467.1 L1661.7 469.3 L1662.9 471.4 L1664.1 473.5 L1665.3 475.6 L1666.5 477.7 L1667.7 479.8 L1668.9 481.8 L1670.1 483.9 L1671.3 485.9 L1672.5 487.9 L1673.7 489.9 L1674.9 491.9 L1676.1 493.9 L1677.3 495.9 L1678.5 497.9 L1679.7 499.8 L1680.9 501.8 L1682.1 503.7 L1683.3 505.6 L1684.5 507.5 L1685.7 509.4 L1686.9 511.3 L1688.1 513.2 L1689.3 515.1 L1690.5 516.9 L1691.7 518.8 L1692.9 520.6 L1694.1 522.4 L1695.3 524.3 L1696.5 526.1 L1697.7 527.9 L1699.3 530.3 L1700.9 532.6 L1702.5 535.0 L1704.1 537.3 L1705.7 539.6 L1707.3 542.0 L1708.9 544.3 L1710.5 546.5 L1712.1 548.8 L1713.7 551.1 L1715.3 553.3 L1716.9 555.5 L1718.5 557.7 L1720.1 559.9 L1721.7 562.1 L1723.3 564.3 L1724.9 566.4 L1726.5 568.6 L1728.1 570.7 L1729.7 572.8 L1731.3 575.0 L1732.9 577.0 L1734.5 579.1 L1736.1 581.2 L1737.7 583.3 L1739.3 585.3 L1740.9 587.4 L1742.5 589.4 L1744.1 591.4 L1745.7 593.4 L1747.3 595.4 L1748.9 597.4 L1750.5 599.4 L1752.1 601.4 L1753.7 603.3 L1755.3 605.3 L1756.9 607.2 L1758.5 609.1 L1760.1 611.0 L1761.7 613.0 L1763.3 614.9 L1764.9 616.7 L1766.5 618.6 L1768.1 620.5 L1769.7 622.4 L1771.3 624.2 L1772.9 626.1 L1774.5 627.9 L1776.1 629.7 L1777.7 631.6 L1779.3 633.4 L1780.9 635.2 L1782.5 637.0 L1784.1 638.8 L1785.7 640.6 L1787.3 642.3 L1788.9 644.1 L1790.5 645.9 L1792.1 647.6 L1793.7 649.4 L1795.3 651.1 L1796.9 652.8 L1798.5 654.6 L1800.1 656.3 L1801.7 658.0 L1803.3 659.7 L1804.9 661.4 L1806.5 663.1 L1808.1 664.8 L1809.7 666.5 L1811.3 668.1 L1812.9 669.8 L1814.5 671.5 L1816.1 673.1 L1817.7 674.8 L1819.3 676.4 L1820.9 678.0 L1822.5 679.7 L1824.1 681.3 L1825.7 682.9 L1827.3 684.5 L1828.9 686.1 L1830.5 687.7 L1832.1 689.3 L1833.7 690.9 L1835.3 692.5 L1836.9 694.1 L1838.5 695.7 L1840.1 697.2 L1841.7 698.8 L1843.3 700.4 L1844.9 701.9 L1846.6 703.5 L1848.2 705.0 L1849.8 706.6 L1851.4 708.1 L1853.0 709.6 L1854.6 711.1 L1856.2 712.7 L1857.8 714.2 L1859.4 715.7 L1861.0 717.2 L1862.6 718.7 L1864.2 720.2 L1865.8 721.7 L1867.4 723.2 L1869.0 724.7 L1870.6 726.1 L1872.2 727.6 L1873.8 729.1 L1875.4 730.6 L1877.0 732.0 L1878.6 733.5 L1880.2 734.9 L1881.8 736.4 L1883.4 737.8 L1885.0 739.3 L1886.6 740.7 L1888.2 742.2 L1889.8 743.6 L1891.4 745.0 L1893.0 746.4 L1894.6 747.9 L1896.2 749.3 L1897.8 750.7 L1899.4 752.1 L1901.0 753.5 L1902.6 754.9 L1904.6 756.7 L1906.6 758.4 L1908.6 760.1 L1910.6 761.9 L1912.6 763.6 L1914.6 765.3 L1916.6 767.0 L1918.6 768.7 L1920.6 770.5 L1922.6 772.2 L1924.6 773.9 L1926.6 775.5 L1928.6 777.2 L1930.6 778.9 L1932.6 780.6 L1934.6 782.3 L1936.6 783.9 L1938.6 785.6 L1940.6 787.3 L1942.6 788.9 L1944.6 790.6 L1946.6 792.2 L1948.6 793.8 L1950.6 795.5 L1952.6 797.1 L1954.6 798.7 L1956.6 800.4 L1958.6 802.0 L1960.6 803.6 L1962.6 805.2 L1964.6 806.8 L1966.6 808.4 L1968.6 810.0 L1970.6 811.6 L1972.6 813.2 L1974.6 814.8 L1976.6 816.4 L1978.6 818.0 L1980.6 819.6 L1982.6 821.1 L1984.6 822.7 L1986.6 824.3 L1988.6 825.8 L1990.6 827.4 L1991.0 827.7" stroke="#0000ff"/>
</g>
<g shape-rendering="crispEdges">
<rect x="641" y="184" width="391" height="5" fill="#000"/>
<rect x="641" y="184" width="5" height="295" fill="#000"/>
<rect x="1027" y="184" width="5" height="295" fill="#000"/>
<rect x="641" y="475" width="229.5" height="4" fill="#000"/>
<rect x="962" y="475" width="70" height="4" fill="#000"/>
</g>
<path d="M868.6 477 L848.3 622.8 L964.2 477" fill="none" stroke="#000" stroke-width="4.5" stroke-linejoin="miter" stroke-miterlimit="10"/>
<g shape-rendering="crispEdges">
<rect x="1415" y="974" width="2" height="16" fill="#00ff00"/>
<rect x="1411" y="1144" width="6" height="16" fill="#00ff00"/>
<rect x="1406" y="88" width="11" height="34" fill="#00ff00"/>
<rect x="1406" y="138" width="11" height="58" fill="#00ff00"/>
<rect x="1406" y="212" width="11" height="64" fill="#00ff00"/>
<rect x="1406" y="292" width="11" height="74" fill="#00ff00"/>
<rect x="1406" y="382" width="11" height="64" fill="#00ff00"/>
<rect x="1406" y="462" width="11" height="66" fill="#00ff00"/>
<rect x="1406" y="544" width="11" height="59" fill="#00ff00"/>
<rect x="1406" y="619" width="11" height="57" fill="#00ff00"/>
<rect x="1406" y="692" width="11" height="55" fill="#00ff00"/>
<rect x="1406" y="763" width="11" height="57" fill="#00ff00"/>
<rect x="1406" y="836" width="11" height="58" fill="#00ff00"/>
<rect x="1406" y="910" width="11" height="64" fill="#00ff00"/>
<rect x="1406" y="990" width="11" height="74" fill="#00ff00"/>
<rect x="1406" y="1080" width="11" height="64" fill="#00ff00"/>
<rect x="1406" y="1160" width="11" height="35" fill="#00ff00"/>
<rect x="1400" y="88" width="11" height="34" fill="#ff0000"/>
<rect x="1400" y="138" width="11" height="58" fill="#ff0000"/>
<rect x="1400" y="212" width="11" height="64" fill="#ff0000"/>
<rect x="1400" y="292" width="11" height="74" fill="#ff0000"/>
<rect x="1400" y="382" width="11" height="64" fill="#ff0000"/>
<rect x="1400" y="462" width="11" height="66" fill="#ff0000"/>
<rect x="1400" y="544" width="11" height="59" fill="#ff0000"/>
<rect x="1400" y="619" width="11" height="57" fill="#ff0000"/>
<rect x="1400" y="692" width="11" height="55" fill="#ff0000"/>
<rect x="1400" y="763" width="11" height="57" fill="#ff0000"/>
<rect x="1400" y="836" width="11" height="58" fill="#ff0000"/>
<rect x="1400" y="910" width="11" height="64" fill="#ff0000"/>
<rect x="1400" y="990" width="11" height="74" fill="#ff0000"/>
<rect x="1400" y="1080" width="11" height="64" fill="#ff0000"/>
<rect x="1400" y="1160" width="11" height="35" fill="#ff0000"/>
<rect x="1386" y="88" width="11" height="34" fill="#0000ff"/>
<rect x="1386" y="138" width="11" height="58" fill="#0000ff"/>
<rect x="1386" y="212" width="11" height="64" fill="#0000ff"/>
<rect x="1386" y="292" width="11" height="74" fill="#0000ff"/>
<rect x="1386" y="382" width="11" height="64" fill="#0000ff"/>
<rect x="1386" y="462" width="11" height="66" fill="#0000ff"/>
<rect x="1386" y="544" width="11" height="59" fill="#0000ff"/>
<rect x="1386" y="619" width="11" height="57" fill="#0000ff"/>
<rect x="1386" y="692" width="11" height="55" fill="#0000ff"/>
<rect x="1386" y="763" width="11" height="57" fill="#0000ff"/>
<rect x="1386" y="836" width="11" height="58" fill="#0000ff"/>
<rect x="1386" y="910" width="11" height="64" fill="#0000ff"/>
<rect x="1386" y="990" width="11" height="74" fill="#0000ff"/>
<rect x="1386" y="1080" width="11" height="64" fill="#0000ff"/>
<rect x="1386" y="1160" width="11" height="35" fill="#0000ff"/>
</g>
<path d="M584.2 657.8 L613.7 707.7" stroke="#ff0000" stroke-width="6" fill="none"/><path d="M622.6 722.8 L604.1 711.1 L621.3 700.9 Z" fill="#ff0000"/>
<path d="M579.7 858.7 L565.0 800.1" stroke="#78ff78" stroke-width="6" fill="none"/><path d="M560.6 782.6 L575.3 799.5 L555.6 804.5 Z" fill="#78ff78"/>
<path d="M959.9 848.5 L1017.7 804.5" stroke="#0000ff" stroke-width="6" fill="none"/><path d="M1031.6 793.9 L1022.4 814.1 L1009.7 797.4 Z" fill="#0000ff"/>
<text y="637" font-size="82" stroke="#000" stroke-width="1.2"><tspan class="it" x="440.6">e</tspan><tspan x="476.3" dy="15" font-size="57">2</tspan><tspan x="518.2" dy="-19" font-size="82">(</tspan><tspan class="it" x="542.5" dy="4" font-size="82">T</tspan><tspan x="595.3" dy="-4" font-size="82">)</tspan></text>
<text y="926.1" font-size="82" stroke="#000" stroke-width="1.2"><tspan class="it" x="490.6">e</tspan><tspan x="527.3" dy="15" font-size="57">1</tspan><tspan x="566.6" dy="-19" font-size="82">(</tspan><tspan class="it" x="591.15" dy="4" font-size="82">T</tspan><tspan x="644.3" dy="-4" font-size="82">)</tspan></text>
<text y="914.8" font-size="82" stroke="#000" stroke-width="1.2"><tspan class="it" x="777.2">e</tspan><tspan x="815.25" dy="15" font-size="57">3</tspan><tspan x="854.85" dy="-19" font-size="82">(</tspan><tspan class="it" x="880" dy="4" font-size="82">T</tspan><tspan x="932.35" dy="-4" font-size="82">)</tspan></text>
<text y="522" font-size="68" stroke="#000" stroke-width="1.2"><tspan class="it" x="1721.6">T</tspan><tspan x="1758.8" dy="14" font-size="48">0</tspan></text>
</svg></body></html>
